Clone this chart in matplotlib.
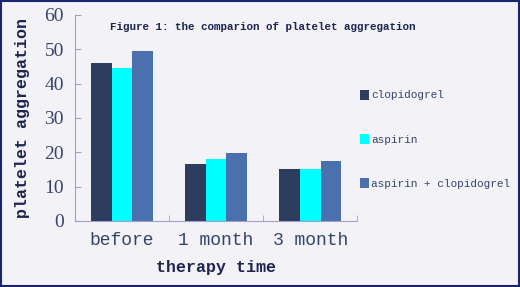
import numpy as np
import matplotlib.pyplot as plt
from matplotlib.patches import Rectangle

# data
categories = ['before', '1 month', '3 month']
clopidogrel = [46.1, 16.5, 15.2]
aspirin = [44.6, 18.1, 15.2]
combo = [49.4, 19.9, 17.4]
series_names = ['clopidogrel', 'aspirin', 'aspirin + clopidogrel']
colors = ['#2c3d5e', '#00ffff', '#4a70ae']

fig = plt.figure(figsize=(5.2, 2.87), dpi=100)
fig.patch.set_facecolor('#f3f3f7')
fig.patches.append(Rectangle((0.002, 0.003), 0.996, 0.994, transform=fig.transFigure,
                             fill=False, edgecolor='#1c2470', linewidth=1.5))

ax = fig.add_axes([0.144, 0.23, 0.543, 0.718])
ax.set_facecolor('#f3f3f7')

x = np.arange(len(categories))
w = 0.22
for i, vals in enumerate([clopidogrel, aspirin, combo]):
    ax.bar(x + (i - 1) * w, vals, w, color=colors[i], label=series_names[i])

ax.set_xlim(-0.5, 2.5)
ax.set_ylim(0, 60)
ax.set_yticks(range(0, 61, 10))
ax.set_xticks(x)
ax.set_xticklabels(categories)
ax.set_xticks([-0.5, 0.5, 1.5, 2.5], minor=True)
ax.tick_params(axis='x', which='major', length=0, pad=8)
ax.tick_params(axis='x', which='minor', direction='in', length=4, color='#a0a0c8')
ax.tick_params(axis='y', direction='in', length=4, color='#a0a0c8', pad=8)
for lab in ax.get_xticklabels() + ax.get_yticklabels():
    lab.set_family('Liberation Serif')
    lab.set_fontsize(14)
    lab.set_color('#34446a')
for lab in ax.get_xticklabels():
    lab.set_family('Liberation Mono')
    lab.set_fontsize(13)

for s in ['top', 'right']:
    ax.spines[s].set_visible(False)
for s in ['left', 'bottom']:
    ax.spines[s].set_color('#a0a0c8')

ax.set_ylabel('platelet aggregation', family='Liberation Mono', fontweight='bold',
              fontsize=12, color='#1c2450', labelpad=10)
ax.set_xlabel('therapy time', family='Liberation Mono', fontweight='bold',
              fontsize=12, color='#1c2450', labelpad=8)

fig.text(0.505, 0.906, 'Figure 1: the comparion of platelet aggregation',
         family='Liberation Mono', fontweight='bold', fontsize=7.8,
         color='#1c2450', ha='center', va='center')

ax.legend(loc='center left', bbox_to_anchor=(0.692, 0.515), bbox_transform=fig.transFigure,
          frameon=False, prop={'family': 'Liberation Mono', 'size': 8}, labelspacing=3.0,
          handlelength=0.8, handleheight=1.0, handletextpad=0.2, labelcolor='#34446a',
          borderpad=0, borderaxespad=0)

plt.savefig('out.png', dpi=100, facecolor=fig.get_facecolor())
